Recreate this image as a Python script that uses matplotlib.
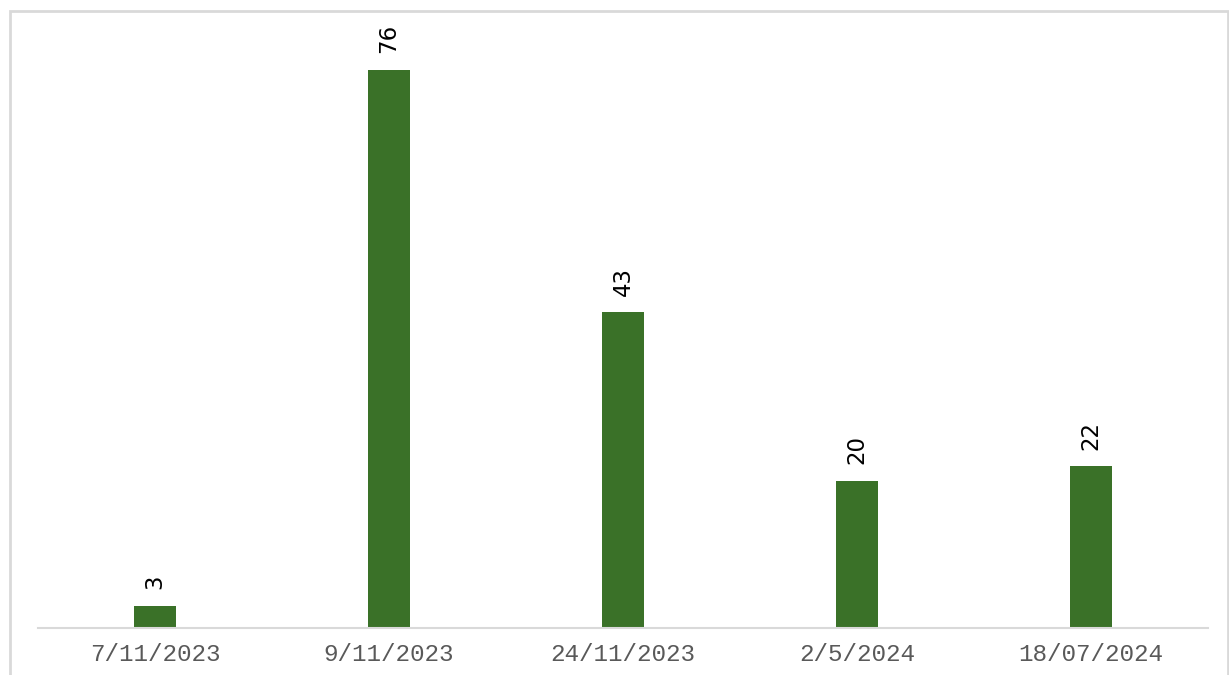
import matplotlib
matplotlib.use("Agg")
import matplotlib.pyplot as plt
from matplotlib.patches import Rectangle

categories = ["7/11/2023", "9/11/2023", "24/11/2023", "2/5/2024", "18/07/2024"]
values = [3, 76, 43, 20, 22]

W, H = 1229, 675
fig = plt.figure(figsize=(W / 100, H / 100), dpi=100)
fig.patch.set_facecolor("white")

# outer chart border (light gray)
fig.patches.append(Rectangle((9.5 / W, -0.1), (1227.5 - 9.5) / W, 1.1 - 11 / H,
                             transform=fig.transFigure, fill=False,
                             edgecolor="#d9d9d9", linewidth=2, zorder=0))

left, right = 38 / W, 1208 / W
bottom, top = 1 - 628 / H, 1 - 20 / H
ax = fig.add_axes([left, bottom, right - left, top - bottom])
ax.set_facecolor("none")

x = list(range(len(categories)))
bars = ax.bar(x, values, width=0.18, color="#3A7128", zorder=2)
ax.set_xlim(-0.5, len(categories) - 0.5)
ax.set_ylim(0, 82.8)

for xi, v in zip(x, values):
    ax.annotate(str(v), xy=(xi, v), xytext=(0, 12), textcoords="offset points",
                rotation=90, ha="center", va="bottom", fontsize=16.5,
                family="DejaVu Sans", color="black")

for s in ["top", "right", "left"]:
    ax.spines[s].set_visible(False)
ax.spines["bottom"].set_color("#d9d9d9")
ax.spines["bottom"].set_linewidth(1.5)
ax.set_yticks([])
ax.set_xticks(x)
ax.set_xticklabels(categories, family="Liberation Mono", fontsize=17.5, color="#595959")
ax.tick_params(axis="x", length=0, pad=11)

fig.savefig("out.png", dpi=100)
